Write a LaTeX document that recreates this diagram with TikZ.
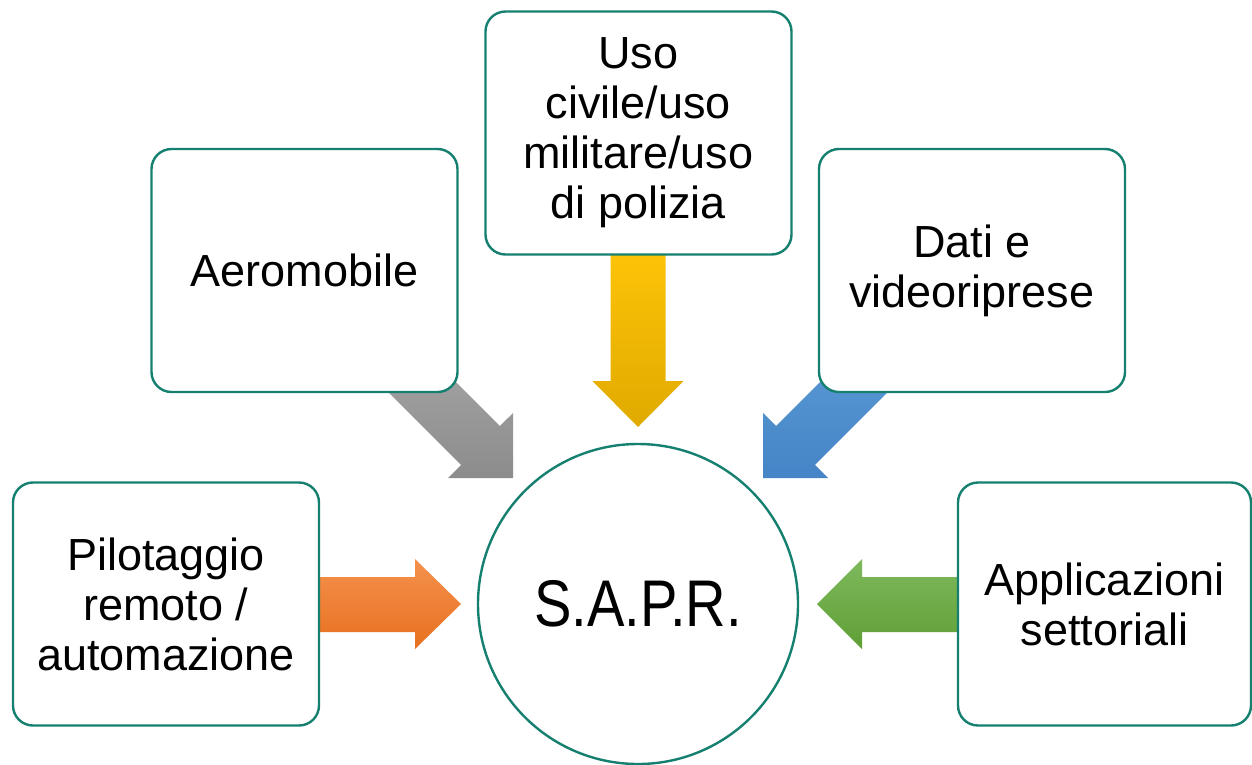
\documentclass[tikz,border=0pt]{standalone}
\usepackage{fontspec}
\setmainfont{Liberation Sans}
\newfontfamily\saprfont[FakeStretch=0.85]{Liberation Sans}
\pgfdeclarelayer{bg}
\pgfsetlayers{bg,main}
\definecolor{boxline}{RGB}{22,128,112}
\definecolor{grayT}{HTML}{A6A6A6}
\definecolor{grayB}{HTML}{8C8C8C}
\definecolor{yelT}{HTML}{FFC508}
\definecolor{yelB}{HTML}{E0AA00}
\definecolor{bluT}{HTML}{5B9BD5}
\definecolor{bluB}{HTML}{4584C6}
\definecolor{orT}{HTML}{F4914D}
\definecolor{orB}{HTML}{E8701F}
\definecolor{grT}{HTML}{7EB95C}
\definecolor{grB}{HTML}{5F9F36}
\begin{document}
\begin{tikzpicture}[x=1pt,y=-1pt,
  card/.style={draw=boxline, line width=2.4pt, rounded corners=20pt, fill=white,
    minimum width=306pt, minimum height=243pt, inner sep=0pt, align=center,
    font=\fontsize{45}{50}\selectfont},
  hub/.style={circle, draw=boxline, line width=2.4pt, fill=white, minimum size=320pt,
    inner sep=0pt, font=\saprfont\fontsize{66}{70}\selectfont}]
\useasboundingbox (0,0) rectangle (1252,764);

\node[card] (uso) at (638.5,133) {Uso\\civile/uso\\militare/uso\\di polizia};
\node[card] (aero) at (304.5,270.5) {Aeromobile};
\node[card] (dati) at (972,270.5) {Dati e\\videoriprese};
\node[card] (pil) at (166,604) {Pilotaggio\\remoto /\\automazione};
\node[card, minimum width=293pt] (app) at (1104.5,604) {Applicazioni\\settoriali};
\node[hub] (sapr) at (638,604) {S.A.P.R.};

\begin{pgfonlayer}{bg}
  \fill[white] (0,0) rectangle (1252,764);
  % gray arrow (Aeromobile -> S.A.P.R.)
  \shade[top color=grayT, bottom color=grayB]
    (415,341) -- (499.9,426.05) -- (513,413) -- (513,478) -- (448,478)
    -- (461.05,464.95) -- (376.2,380.1) -- cycle;
  % blue arrow (Dati -> S.A.P.R.)
  \shade[top color=bluT, bottom color=bluB]
    (861,341) -- (776.1,426.05) -- (763,413) -- (763,478) -- (828,478)
    -- (814.95,464.95) -- (899.8,380.1) -- cycle;
  % yellow arrow (Uso -> S.A.P.R.)
  \shade[top color=yelT, bottom color=yelB]
    (610.5,240) -- (665.5,240) -- (665.5,381) -- (683.5,381) -- (638,427)
    -- (592.5,381) -- (610.5,381) -- cycle;
  % orange arrow (Pilotaggio -> S.A.P.R.)
  \shade[top color=orT, bottom color=orB]
    (300,577) -- (415,577) -- (415,559) -- (461,604) -- (415,649)
    -- (415,632) -- (300,632) -- cycle;
  % green arrow (Applicazioni -> S.A.P.R.)
  \shade[top color=grT, bottom color=grB]
    (975,577) -- (862,577) -- (862,559) -- (817,604) -- (862,649)
    -- (862,632) -- (975,632) -- cycle;
\end{pgfonlayer}
\end{tikzpicture}
\end{document}
